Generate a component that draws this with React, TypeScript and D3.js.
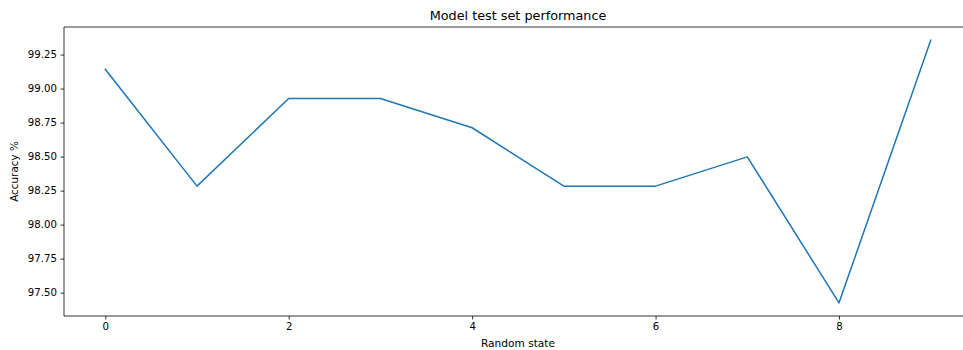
import React, { useEffect, useRef } from "react";
import * as d3 from "d3";

// accuracy per random state (correct / 466 test samples)
const states = [0, 1, 2, 3, 4, 5, 6, 7, 8, 9];
const accuracy = [99.142, 98.283, 98.927, 98.927, 98.712, 98.283, 98.283, 98.498, 97.425, 99.356];
const xTicks = [0, 2, 4, 6, 8];
const yTicks = [97.5, 97.75, 98.0, 98.25, 98.5, 98.75, 99.0, 99.25];

const App = () => {
  const ref = useRef<SVGSVGElement>(null);

  useEffect(() => {
    const svg = d3.select(ref.current);
    svg.selectAll("*").remove();

    const width = 963;
    const height = 350;
    const left = 64;
    const right = 972; // axes run past the picture edge
    const top = 27;
    const bottom = 316;
    const font = "DejaVu Sans, sans-serif";

    const xPad = (d3.max(states)! - d3.min(states)!) * 0.05;
    const x = d3
      .scaleLinear()
      .domain([d3.min(states)! - xPad, d3.max(states)! + xPad])
      .range([left, right]);

    const [lo, hi] = d3.extent(accuracy) as [number, number];
    const yPad = (hi - lo) * 0.05;
    const y = d3.scaleLinear().domain([lo - yPad, hi + yPad]).range([bottom, top]);

    svg.attr("width", width).attr("height", height);

    const line = d3
      .line<number>()
      .x((_, i) => x(states[i]))
      .y((d) => y(d));

    svg
      .append("path")
      .datum(accuracy)
      .attr("d", line)
      .attr("fill", "none")
      .attr("stroke", "#1f77b4")
      .attr("stroke-width", 1.5)
      .attr("stroke-linejoin", "round")
      .attr("stroke-linecap", "square");

    const xAxis = svg
      .append("g")
      .attr("transform", `translate(0,${bottom})`)
      .call(d3.axisBottom(x).tickValues(xTicks).tickSize(3.5).tickPadding(3.5).tickFormat(d3.format("d")));
    const yAxis = svg
      .append("g")
      .attr("transform", `translate(${left},0)`)
      .call(d3.axisLeft(y).tickValues(yTicks).tickSize(3.5).tickPadding(3.5).tickFormat(d3.format(".2f")));

    [xAxis, yAxis].forEach((g) => {
      g.select(".domain").remove();
      g.selectAll(".tick line").attr("stroke", "#000").attr("stroke-width", 0.8);
      g.selectAll(".tick text").attr("fill", "#000").style("font-family", font).style("font-size", "10.2px");
    });

    // spines
    const spines = svg.append("g").attr("stroke", "#000").attr("stroke-width", 0.8).attr("fill", "none");
    spines.append("line").attr("x1", left).attr("x2", left).attr("y1", top).attr("y2", bottom);
    spines.append("line").attr("x1", left).attr("x2", right).attr("y1", bottom).attr("y2", bottom);
    spines.append("line").attr("x1", left).attr("x2", right).attr("y1", top).attr("y2", top);
    spines.append("line").attr("x1", right).attr("x2", right).attr("y1", top).attr("y2", bottom);

    svg
      .append("text")
      .attr("x", (left + right) / 2)
      .attr("y", top - 7)
      .attr("text-anchor", "middle")
      .style("font-family", font)
      .style("font-size", "12.8px")
      .text("Model test set performance");

    svg
      .append("text")
      .attr("x", (left + right) / 2)
      .attr("y", 347)
      .attr("text-anchor", "middle")
      .style("font-family", font)
      .style("font-size", "10.6px")
      .text("Random state");

    svg
      .append("text")
      .attr("transform", `translate(18,${(top + bottom) / 2}) rotate(-90)`)
      .attr("text-anchor", "middle")
      .style("font-family", font)
      .style("font-size", "10.4px")
      .text("Accuracy %");
  }, []);

  return <svg ref={ref} style={{ position: "absolute", left: 0, top: 0 }}></svg>;
};

export default App;
